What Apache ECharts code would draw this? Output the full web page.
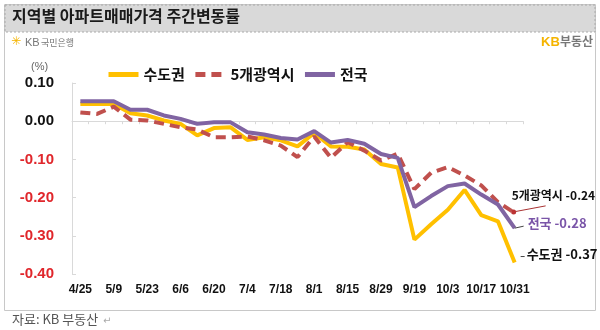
<!DOCTYPE html>
<html><head><meta charset="utf-8">
<script src="https://cdn.jsdelivr.net/npm/echarts@6/dist/echarts.min.js"></script>
<style>html,body{margin:0;padding:0;background:#fff}#c{width:600px;height:330px}</style>
</head><body><div id="c"></div>
<script>
const categories = ['4/25','5/2','5/9','5/16','5/23','5/30','6/6','6/13','6/20','6/27','7/4','7/11','7/18','7/25','8/1','8/8','8/15','8/22','8/29','9/5','9/19','9/26','10/3','10/10','10/17','10/24','10/31'];
const metro = [0.045,0.045,0.045,0.021,0.015,0.002,-0.007,-0.037,-0.018,-0.016,-0.049,-0.042,-0.050,-0.066,-0.031,-0.066,-0.067,-0.074,-0.112,-0.121,-0.310,-0.270,-0.232,-0.180,-0.246,-0.262,-0.37];
const cities = [0.023,0.019,0.038,0.004,0.002,-0.007,-0.016,-0.022,-0.042,-0.042,-0.040,-0.050,-0.064,-0.094,-0.040,-0.096,-0.055,-0.077,-0.103,-0.085,-0.178,-0.135,-0.120,-0.142,-0.168,-0.212,-0.24];
const nation = [0.052,0.052,0.052,0.030,0.030,0.015,0.006,-0.007,-0.003,-0.003,-0.029,-0.035,-0.044,-0.048,-0.026,-0.056,-0.049,-0.059,-0.086,-0.096,-0.225,-0.196,-0.170,-0.163,-0.192,-0.218,-0.28];
const seriesNames = ['수도권','5개광역시','전국'];
const yTicks = {min:-0.4, max:0.1, interval:0.1};

const KR = '"Noto Sans CJK KR", sans-serif';
const NUM = '"Liberation Sans", Arial, sans-serif';
const cY = '#FFC000', cR = '#C0504D', cP = '#8064A2';

const chart = echarts.init(document.getElementById('c'), null, {renderer:'canvas'});
const option = {
  animation:false,
  backgroundColor:'#fff',
  grid:{left:72, right:77, top:83, bottom:56},
  legend:{
    left:101, top:62, itemWidth:30, itemHeight:14, itemGap:8,
    itemStyle:{opacity:0},
    lineStyle:{width:5},
    textStyle:{fontFamily:KR, fontWeight:'bold', fontSize:15, color:'#111'},
    data:seriesNames
  },
  xAxis:[{
    type:'category', data:categories, boundaryGap:true,
    axisLine:{onZero:true, lineStyle:{color:'#d9d9d9', width:1}},
    axisTick:{show:true, length:3, interval:0, lineStyle:{color:'#d9d9d9'}},
    axisLabel:{show:false}
  },{
    type:'category', data:categories, boundaryGap:true, position:'bottom',
    axisLine:{show:false, onZero:false}, axisTick:{show:false},
    axisLabel:{show:true, interval:function(i){return i%2===0;}, margin:10,
      fontFamily:NUM, fontWeight:'bold', fontSize:12, color:'#111'}
  }],
  yAxis:{
    type:'value', min:yTicks.min, max:yTicks.max, interval:yTicks.interval,
    splitLine:{show:false},
    axisLine:{show:true, lineStyle:{color:'#d9d9d9'}},
    axisTick:{show:true, inside:true, length:4, lineStyle:{color:'#d9d9d9'}},
    axisLabel:{margin:18,
      formatter:function(v){const s=v.toFixed(2); return (Math.round(v*100)<0?'{n|':'{p|')+s+'}';},
      rich:{p:{fontFamily:NUM, fontWeight:'bold', fontSize:15, color:'#111'},
            n:{fontFamily:NUM, fontWeight:'bold', fontSize:15, color:'#E0262B'}}
    }
  },
  series:[
    {name:seriesNames[0], type:'line', data:metro, symbol:'none', lineStyle:{color:cY, width:4}, itemStyle:{color:cY}, z:2},
    {name:seriesNames[1], type:'line', data:cities, symbol:'none', lineStyle:{color:cR, width:4, type:[10,6]}, itemStyle:{color:cR}, z:3},
    {name:seriesNames[2], type:'line', data:nation, symbol:'none', lineStyle:{color:cP, width:4}, itemStyle:{color:cP}, z:4}
  ],
  graphic:[
    {type:'rect', shape:{x:4.5,y:4.5,width:591,height:306}, style:{fill:'none', stroke:'#c8c8c8', lineWidth:1}, z:-10},
    {type:'rect', shape:{x:5,y:5,width:590,height:27}, style:{fill:'#d9d9d9', stroke:'#aaa', lineWidth:1, lineDash:[2,2]}, z:-5},
    {type:'text', left:12, top:8, style:{text:'지역별 아파트매매가격 주간변동률', font:'bold 16px '+KR, fill:'#1a1a1a'}},
    {type:'text', left:11, top:36, style:{text:'✳', font:'bold 12px "DejaVu Sans"', fill:'#F5B400'}},
    {type:'text', left:25, top:37, style:{text:'KB', font:'11px '+NUM, fill:'#777'}},
    {type:'text', left:41, top:38, style:{text:'국민은행', font:'9px '+KR, fill:'#777'}},
    {type:'text', left:541, top:36, style:{text:'KB', font:'bold 13px '+NUM, fill:'#F5B400'}},
    {type:'text', left:560, top:35, style:{text:'부동산', font:'bold 12px '+KR, fill:'#777'}},
    {type:'text', left:31, top:61, style:{text:'(%)', font:'11px '+NUM, fill:'#666'}},
    {type:'text', left:12, top:313, style:{text:'자료: KB 부동산', font:'13px '+KR, fill:'#555'}},
    {type:'text', left:103, top:316, style:{text:'↵', font:'10px "DejaVu Sans"', fill:'#aaa'}}
  ]
};
chart.setOption(option);

// annotations anchored to last data points
const last = categories.length-1;
const pR = chart.convertToPixel({xAxisIndex:0, yAxisIndex:0},[last, cities[last]]);
const pP = chart.convertToPixel({xAxisIndex:0, yAxisIndex:0},[last, nation[last]]);
const pY = chart.convertToPixel({xAxisIndex:0, yAxisIndex:0},[last, metro[last]]);
const g = option.graphic.slice();
g.push(
  {type:'line', shape:{x1:pR[0]-1,y1:pR[1]-1,x2:pR[0]+31,y2:pR[1]-7}, style:{stroke:'#A33', lineWidth:1}, z:10},
  {type:'circle', shape:{cx:pR[0]-1,cy:pR[1]-1,r:2.5}, style:{fill:'#B33'}, z:10},
  {type:'text', left:pR[0]-3, top:pR[1]-23, style:{text:'5개광역시 -0.24', font:'bold 12px '+KR, fill:'#111'}, z:10},
  {type:'line', shape:{x1:pP[0],y1:pP[1],x2:pP[0]+9,y2:pP[1]-2}, style:{stroke:'#444', lineWidth:1}, z:10},
  {type:'text', left:pP[0]+13, top:pP[1]-12, style:{text:'전국 -0.28', font:'bold 13px '+KR, fill:'#7A55A8'}, z:10},
  {type:'line', shape:{x1:pY[0]+6,y1:pY[1]-6,x2:pY[0]+10,y2:pY[1]-6}, style:{stroke:'#444', lineWidth:1}, z:10},
  {type:'text', left:pY[0]+12, top:pY[1]-15, style:{text:'수도권 -0.37', font:'bold 13px '+KR, fill:'#111'}, z:10}
);
chart.setOption({graphic:g}, {replaceMerge:['graphic']});
</script></body></html>
